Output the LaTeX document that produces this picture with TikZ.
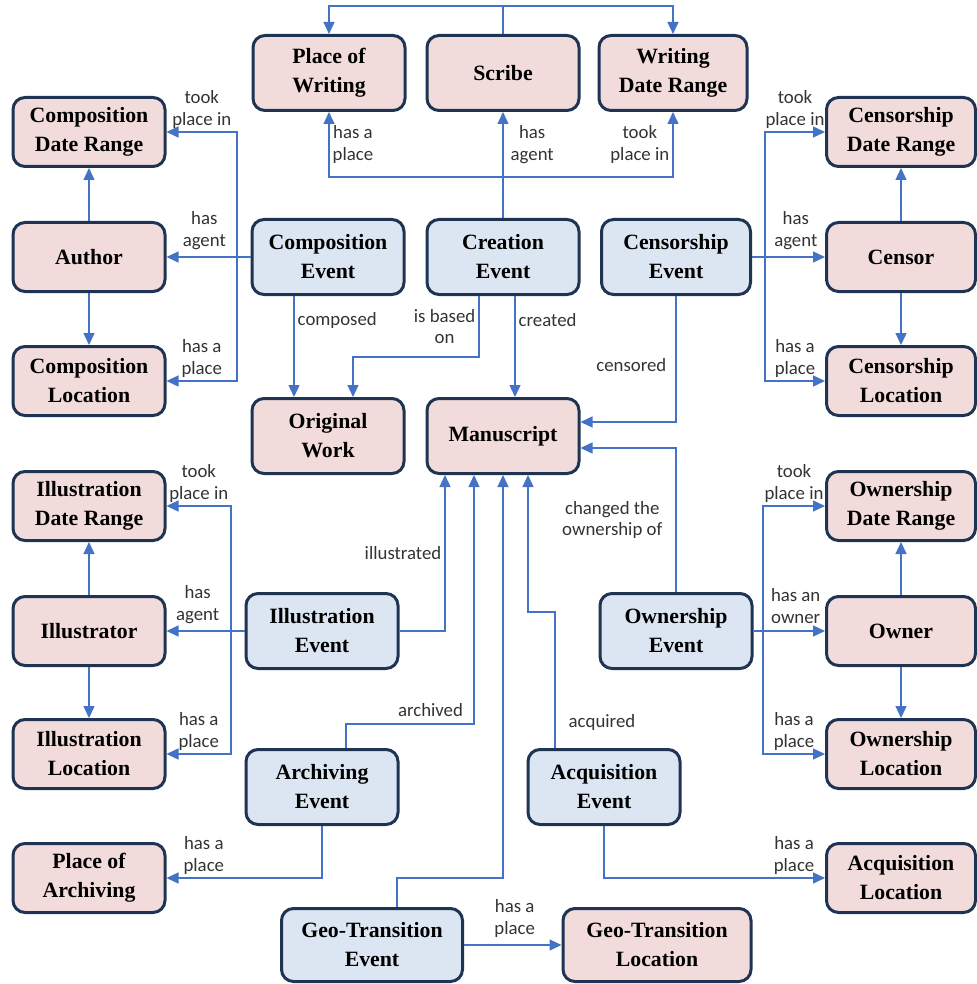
\documentclass[tikz,border=0pt]{standalone}
\usepackage{fontspec}
\setmainfont{Liberation Serif}
\newfontfamily\boxfont{Liberation Serif}
\newfontfamily\lblfont{Carlito}
\usetikzlibrary{arrows.meta}
\definecolor{boxpink}{HTML}{F2DCDB}
\definecolor{boxblue}{HTML}{DCE6F2}
\definecolor{boxline}{HTML}{1F3452}
\definecolor{linkblue}{HTML}{4472C4}
\tikzset{
	box/.style={draw=boxline, line width=1.5pt, rounded corners=6pt, align=center,
		minimum width=76pt, minimum height=34.5pt, inner sep=2pt,
		font=\boxfont\bfseries\fontsize{10.9}{14.5}\selectfont},
	pinkbox/.style={box, fill=boxpink},
	bluebox/.style={box, fill=boxblue, minimum height=37.5pt},
	link/.style={draw=linkblue, line width=0.7pt},
	flow/.style={link, -{Triangle[length=6pt,width=5.5pt]}},
	lbl/.style={font=\lblfont\fontsize{9.4}{10.8}\selectfont, align=center, text=black!80, inner sep=1.5pt},
}
\begin{document}
\begin{tikzpicture}[x=0.5pt, y=-0.5pt]
	\useasboundingbox (0,0) rectangle (977,984);

	\node[pinkbox, minimum height=37.5pt] (place) at (329,73) {Place of\\Writing};
	\node[pinkbox, minimum height=37.5pt] (scribe) at (503,73) {Scribe};
	\node[pinkbox, minimum height=37.5pt, minimum width=74pt] (wdate) at (673,73) {Writing\\Date Range};

	\node[pinkbox] (cdate) at (89,132) {Composition\\Date Range};
	\node[pinkbox] (author) at (89,257) {Author};
	\node[pinkbox] (cloc) at (89,381) {Composition\\Location};
	\node[bluebox] (compev) at (328,257) {Composition\\Event};
	\node[bluebox] (creaev) at (503,257) {Creation\\Event};
	\node[bluebox, minimum width=74.5pt] (censev) at (676,257) {Censorship\\Event};
	\node[pinkbox, minimum width=74.5pt] (csdate) at (901,132) {Censorship\\Date Range};
	\node[pinkbox, minimum width=74.5pt] (censor) at (901,257) {Censor};
	\node[pinkbox, minimum width=74.5pt] (csloc) at (901,381) {Censorship\\Location};

	\node[pinkbox, minimum height=37.5pt] (orig) at (328,436) {Original\\Work};
	\node[pinkbox, minimum height=37.5pt] (manu) at (503,436) {Manuscript};

	\node[pinkbox] (idate) at (89,506) {Illustration\\Date Range};
	\node[pinkbox] (illus) at (89,631) {Illustrator};
	\node[pinkbox] (iloc) at (89,754) {Illustration\\Location};
	\node[bluebox] (illev) at (322,631) {Illustration\\Event};
	\node[bluebox] (ownev) at (676,631) {Ownership\\Event};
	\node[pinkbox, minimum width=74.5pt] (odate) at (901,506) {Ownership\\Date Range};
	\node[pinkbox, minimum width=74.5pt] (owner) at (901,631) {Owner};
	\node[pinkbox, minimum width=74.5pt] (oloc) at (901,754) {Ownership\\Location};

	\node[bluebox] (archev) at (322,787) {Archiving\\Event};
	\node[bluebox] (acqev) at (604,787) {Acquisition\\Event};
	\node[pinkbox] (parch) at (89,878) {Place of\\Archiving};
	\node[pinkbox, minimum width=74.5pt] (aloc) at (901,878) {Acquisition\\Location};
	\node[bluebox, minimum width=90.5pt, minimum height=36.5pt] (geoev) at (372,945) {Geo-Transition\\Event};
	\node[pinkbox, minimum width=94pt, minimum height=36.5pt] (geoloc) at (657,945) {Geo-Transition\\Location};

	\coordinate (topjoin) at (503,6);
	\coordinate (crjoin) at (503,177);
	\coordinate (cjoin) at (237,257);
	\coordinate (csjoin) at (765,257);
	\coordinate (ijoin) at (231,631);
	\coordinate (ojoin) at (763,631);
	\coordinate (basedjoin) at (479,357);
	\coordinate (censjoin) at (676,422);
	\coordinate (ownjoin) at (676,448);
	\coordinate (illjoin) at (445,631);
	\coordinate (archjoin) at (346,724);
	\coordinate (archturn) at (474,724);
	\coordinate (acqjoin) at (555,612);
	\coordinate (acqturn) at (528,612);
	\coordinate (geojoin) at (397,878);
	\coordinate (geoturn) at (503,878);

	\draw[flow] (author) -- (cdate);
	\draw[flow] (author) -- (cloc);
	\draw[flow] (censor) -- (csdate);
	\draw[flow] (censor) -- (csloc);
	\draw[flow] (owner) -- (odate);
	\draw[flow] (owner) -- (oloc);
	\draw[flow] (illus) -- (idate);
	\draw[flow] (illus) -- (iloc);

	\draw[flow] (compev) -- node[lbl, above=2pt, pos=0.55] {has\\agent} (author);
	\draw[flow] (censev) -- node[lbl, above=2pt, pos=0.6] {has\\agent} (censor);
	\draw[flow] (ownev) -- node[lbl, above=2pt, pos=0.59] {has an\\owner} (owner);
	\draw[flow] (illev) -- node[lbl, above=2pt, pos=0.6] {has\\agent} (illus);
	\draw[flow] (geoev) -- node[lbl, above=2pt, pos=0.52] {has a\\place} (geoloc);

	\draw[flow] ([xshift=-17pt]compev.south) -- node[lbl, right, pos=0.24] {composed} ([xshift=-17pt]orig.north);
	\draw[flow] ([xshift=6pt]creaev.south) -- node[lbl, right, pos=0.24] {created} ([xshift=6pt]manu.north);

	\draw[link] (scribe) -- (topjoin);
	\draw[flow] (topjoin) -| (place.north);
	\draw[flow] (topjoin) -| (wdate.north);
	\draw[link] (creaev) -- (crjoin);
	\draw[flow] (crjoin) -- node[lbl, right=2pt] {has\\agent} (scribe);
	\draw[flow] (crjoin) -| node[lbl, right, pos=0.75] {has a\\place} (place.south);
	\draw[flow] (crjoin) -| node[lbl, left, pos=0.75] {took\\place in} (wdate.south);

	\draw[flow] (cjoin) |- node[lbl, above, pos=0.75] {took\\place in} (cdate.east);
	\draw[flow] (cjoin) |- node[lbl, above, pos=0.75] {has a\\place} (cloc.east);
	\draw[flow] (csjoin) |- node[lbl, above, pos=0.75] {took\\place in} (csdate.west);
	\draw[flow] (csjoin) |- node[lbl, above, pos=0.75] {has a\\place} (csloc.west);
	\draw[flow] (ijoin) |- node[lbl, above, pos=0.75] {took\\place in} (idate.east);
	\draw[flow] (ijoin) |- node[lbl, above, pos=0.75] {has a\\place} (iloc.east);
	\draw[flow] (ojoin) |- node[lbl, above, pos=0.75] {took\\place in} (odate.west);
	\draw[flow] (ojoin) |- node[lbl, above, pos=0.75] {has a\\place} (oloc.west);

	\draw[flow] ([xshift=-12pt]creaev.south) -- node[lbl, left] {is based\\on} (basedjoin) -| ([xshift=12.5pt]orig.north);
	\draw[flow] (censev) -- node[lbl, left=3pt, pos=0.55] {censored} (censjoin) -- (censjoin -| manu.east);
	\draw[flow] (ownev) -- node[lbl, left=5pt] {changed the\\ownership of} (ownjoin) -- (ownjoin -| manu.east);
	\draw[flow] (illev) -- (illjoin) -- node[lbl, left] {illustrated} (illjoin |- manu.south);
	\draw[flow] ([xshift=12pt]archev.north) -- (archjoin) -- node[lbl, above=2pt, pos=0.66] {archived} (archturn) -- (archturn |- manu.south);
	\draw[flow] ([xshift=12.5pt]geoev.north) -- (geojoin) -- (geoturn) -- (manu.south);
	\draw[flow] ([xshift=-24.5pt]acqev.north) -- node[lbl, right=5pt, pos=0.19] {acquired} (acqjoin) -- (acqturn) -- (acqturn |- manu.south);

	\draw[flow] (archev.south) |- node[lbl, above, pos=0.88] {has a\\place} (parch.east);
	\draw[flow] (acqev.south) |- node[lbl, above, pos=0.93] {has a\\place} (aloc.west);
\end{tikzpicture}
\end{document}
